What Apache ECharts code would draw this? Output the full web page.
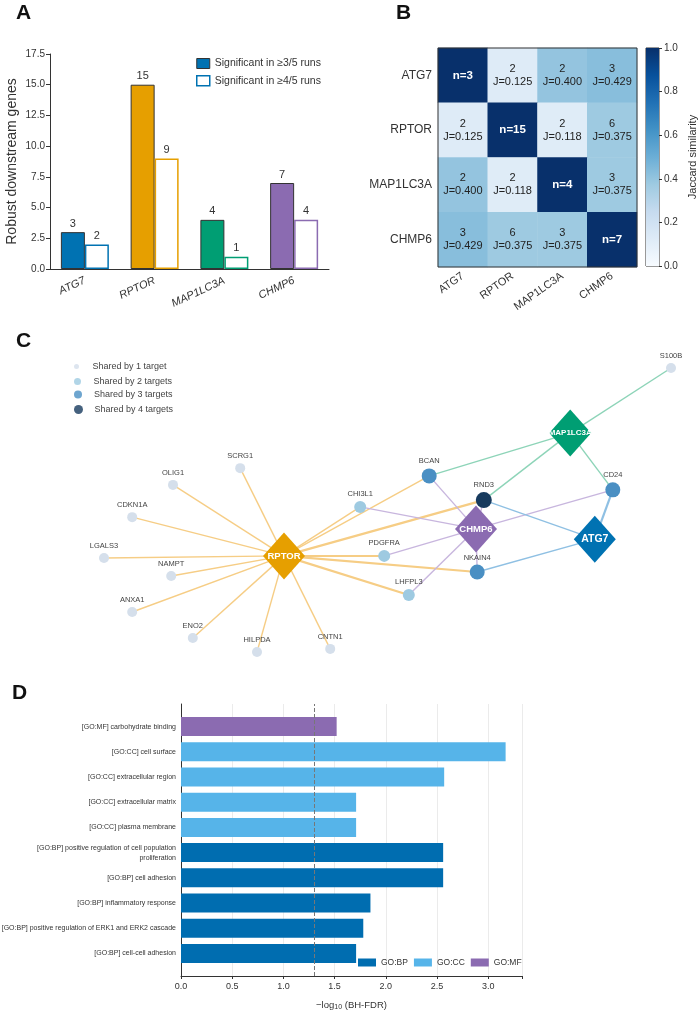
<!DOCTYPE html>
<html>
<head>
<meta charset="utf-8">
<title>Robust downstream genes of autophagy targets</title>
<script src="https://cdn.jsdelivr.net/npm/echarts@6.0.0/dist/echarts.min.js"></script>
<style>
  html, body { margin: 0; padding: 0; background: #fff; }
  #main { width: 700px; height: 1011px; }
</style>
</head>
<body>
<div id="main"></div>
<script>
// ---------- data ----------
// panel A / B: knockdown targets
const targets = ['ATG7', 'RPTOR', 'MAP1LC3A', 'CHMP6'];
const targetColors = ['#0072B2', '#E69F00', '#009E73', '#8B6BB1'];
const robust3of5 = [3, 15, 4, 7];
const robust4of5 = [2, 9, 1, 4];

// panel B: overlap counts and Jaccard index (rows/cols in target order)
const overlapCounts = [
  [3, 2, 2, 3],
  [2, 15, 2, 6],
  [2, 2, 4, 3],
  [3, 6, 3, 7]
];
const jaccardValues = [
  [1, 0.125, 0.400, 0.429],
  [0.125, 1, 0.118, 0.375],
  [0.400, 0.118, 1, 0.375],
  [0.429, 0.375, 0.375, 1]
];
const blues = ['#f7fbff', '#deebf7', '#c6dbef', '#9ecae1', '#6baed6', '#4292c6', '#2171b5', '#08519c', '#08306b'];

// panel C: network layout (layout units 0-100, y grows downward)
const targetXY = [[85.8, 59.4], [34.0, 64.8], [81.7, 25.2], [66.0, 56.1]];
const geneNames = ['SCRG1', 'OLIG1', 'CDKN1A', 'LGALS3', 'NAMPT', 'ANXA1', 'ENO2', 'HILPDA', 'CNTN1',
  'CHI3L1', 'PDGFRA', 'LHFPL3', 'BCAN', 'RND3', 'NKAIN4', 'CD24', 'S100B'];
const geneXY = [[26.7, 36.5], [15.5, 41.9], [8.7, 52.3], [4.0, 65.5], [15.2, 71.3], [8.7, 82.9],
  [18.8, 91.3], [29.5, 95.8], [41.7, 94.8], [46.7, 49.0], [50.7, 64.8], [54.8, 77.4],
  [58.2, 39.0], [67.3, 46.8], [66.2, 70.0], [88.8, 43.5], [98.5, 4.2]];
// [target, gene, strong edge]
const edges = [
  ['RPTOR', 'SCRG1', 0], ['RPTOR', 'OLIG1', 0], ['RPTOR', 'CDKN1A', 0], ['RPTOR', 'LGALS3', 0],
  ['RPTOR', 'NAMPT', 0], ['RPTOR', 'ANXA1', 0], ['RPTOR', 'ENO2', 0], ['RPTOR', 'HILPDA', 0],
  ['RPTOR', 'CNTN1', 0], ['RPTOR', 'CHI3L1', 0], ['RPTOR', 'BCAN', 0], ['RPTOR', 'RND3', 1],
  ['RPTOR', 'PDGFRA', 1], ['RPTOR', 'NKAIN4', 1], ['RPTOR', 'LHFPL3', 1],
  ['MAP1LC3A', 'S100B', 0], ['MAP1LC3A', 'BCAN', 0], ['MAP1LC3A', 'RND3', 0], ['MAP1LC3A', 'CD24', 0],
  ['CHMP6', 'BCAN', 0], ['CHMP6', 'CHI3L1', 0], ['CHMP6', 'RND3', 0], ['CHMP6', 'CD24', 0],
  ['CHMP6', 'PDGFRA', 0], ['CHMP6', 'NKAIN4', 0], ['CHMP6', 'LHFPL3', 0],
  ['ATG7', 'RND3', 0], ['ATG7', 'CD24', 1], ['ATG7', 'NKAIN4', 0]
];
const edgeColors = ['#8fc0e3', '#f6cd85', '#8dd4b8', '#c8b6de'];
const sharedLabels = ['Shared by 1 target', 'Shared by 2 targets', 'Shared by 3 targets', 'Shared by 4 targets'];
const sharedColors = ['#d5dfeb', '#9ecae1', '#4a8fc3', '#173a5e'];
const sharedSizes = [10, 12, 15, 16];

// panel D: GO enrichment
const goTerms = [
  '[GO:MF] carbohydrate binding',
  '[GO:CC] cell surface',
  '[GO:CC] extracellular region',
  '[GO:CC] extracellular matrix',
  '[GO:CC] plasma membrane',
  '[GO:BP] positive regulation of cell population\nproliferation',
  '[GO:BP] cell adhesion',
  '[GO:BP] inflammatory response',
  '[GO:BP] positive regulation of ERK1 and ERK2 cascade',
  '[GO:BP] cell-cell adhesion'
];
const goScores = [1.52, 3.17, 2.57, 1.71, 1.71, 2.56, 2.56, 1.85, 1.78, 1.71];
const goGroups = ['GO:MF', 'GO:CC', 'GO:CC', 'GO:CC', 'GO:CC', 'GO:BP', 'GO:BP', 'GO:BP', 'GO:BP', 'GO:BP'];
const goCategories = ['GO:BP', 'GO:CC', 'GO:MF'];
const goColors = ['#006DB0', '#56B4E9', '#8B6BB1'];
const fdrCutoff = 1.3;
const goMax = 3.33;

// ---------- chart ----------
const FONT = '"Liberation Sans", Arial, sans-serif';
const TXT = '#333';
const chart = echarts.init(document.getElementById('main'));

// heatmap cells
const heatData = [];
targets.forEach((rowName, r) => {
  targets.forEach((colName, c) => {
    heatData.push([c, r, jaccardValues[r][c]]);
  });
});

// network nodes: how many targets share each gene
const sharedBy = geneNames.map(g => edges.filter(e => e[1] === g).length);
const nodes = targets.map((t, i) => ({
  name: t,
  value: targetXY[i],
  symbol: 'diamond',
  symbolSize: [42, 47],
  itemStyle: { color: targetColors[i] },
  label: { show: true, position: 'inside', color: '#fff', fontWeight: 'bold', fontSize: t.length > 6 ? 8 : (t.length > 4 ? 9.5 : 10.5) }
})).concat(geneNames.map((g, i) => ({
  name: g,
  value: geneXY[i],
  symbol: 'circle',
  symbolSize: sharedSizes[sharedBy[i] - 1],
  itemStyle: { color: sharedColors[sharedBy[i] - 1] },
  label: { show: true, position: 'top', distance: 3, color: '#444', fontSize: 7.5 }
})));
const links = edges.map(e => ({
  source: e[0],
  target: e[1],
  lineStyle: { color: edgeColors[targets.indexOf(e[0])], width: e[2] ? 2.2 : 1.4, opacity: 1 }
}));

// legends of panel C, one per node size
const sharedLegendTops = [362, 377, 390, 405];
const sharedLegendSizes = [5, 7, 8, 9];
const sharedLegends = sharedLabels.map((name, i) => ({
  data: [name],
  left: 74,
  top: sharedLegendTops[i],
  padding: 0,
  icon: 'circle',
  itemWidth: 22,
  itemHeight: sharedLegendSizes[i],
  selectedMode: false,
  textStyle: { fontSize: 9, color: '#444', fontFamily: FONT }
}));
const sharedSeries = sharedLabels.map((name, i) => ({
  type: 'scatter',
  name: name,
  xAxisIndex: 3,
  yAxisIndex: 3,
  itemStyle: { color: sharedColors[i] },
  data: []
}));

const goSeries = goCategories.map((cat, k) => ({
  type: 'bar',
  name: cat,
  xAxisIndex: 5,
  yAxisIndex: 5,
  barWidth: 19,
  barGap: '-100%',
  itemStyle: { color: goColors[k] },
  data: goScores.map((s, i) => (goGroups[i] === cat ? s : '-'))
}));

const panelTitle = (text, left, top) => ({
  text: text, left: left, top: top, padding: 0,
  textStyle: { fontSize: 21, fontWeight: 'bold', color: '#111', fontFamily: FONT }
});

const option = {
  animation: false,
  backgroundColor: '#fff',
  textStyle: { fontFamily: FONT },
  title: [
    panelTitle('A', 16, 3),
    panelTitle('B', 396, 3),
    panelTitle('C', 16, 331),
    panelTitle('D', 12, 683)
  ],
  legend: [
    {
      // panel A
      data: [
        { name: 'Significant in ≥3/5 runs', itemStyle: { color: '#0072B2', borderColor: '#333', borderWidth: 1 } },
        { name: 'Significant in ≥4/5 runs', itemStyle: { color: '#fff', borderColor: '#0072B2', borderWidth: 1.5 } }
      ],
      orient: 'vertical',
      left: 196,
      top: 58,
      padding: 0,
      icon: 'rect',
      itemGap: 6,
      itemWidth: 13,
      itemHeight: 10,
      selectedMode: false,
      textStyle: { fontSize: 10.5, color: TXT, fontFamily: FONT }
    },
    {
      // panel D
      data: goCategories,
      left: 358,
      top: 958,
      padding: 0,
      itemGap: 6,
      itemWidth: 18,
      itemHeight: 8,
      icon: 'rect',
      selectedMode: false,
      textStyle: { fontSize: 8.5, color: TXT, fontFamily: FONT }
    }
  ].concat(sharedLegends),
  grid: [
    { left: 50, top: 54, width: 279, height: 215, outerBoundsMode: 'none' },
    { left: 438, top: 48, width: 199, height: 219, show: true, borderColor: '#333', borderWidth: 1, z: 5, outerBoundsMode: 'none' },
    { left: 646, top: 48, width: 13, height: 218, show: true, borderColor: '#333', borderWidth: 1, outerBoundsMode: 'none' },
    { left: 80, top: 355, width: 600, height: 310, outerBoundsMode: 'none' },
    // panel D frame (axes, gridlines, cutoff) and bar area inside it
    { left: 181, top: 704, width: 341, height: 272, outerBoundsMode: 'none' },
    { left: 181, top: 714, width: 341, height: 252, outerBoundsMode: 'none' }
  ],
  visualMap: {
    type: 'continuous',
    show: false,
    min: 0,
    max: 1,
    dimension: 2,
    seriesIndex: 2,
    inRange: { color: blues }
  },
  xAxis: [
    {
      gridIndex: 0,
      type: 'category',
      data: targets,
      axisLine: { lineStyle: { color: TXT } },
      axisTick: { alignWithLabel: true, length: 4, lineStyle: { color: TXT } },
      axisLabel: { rotate: 25, fontStyle: 'italic', fontSize: 11, color: TXT, margin: 11 }
    },
    {
      gridIndex: 1,
      type: 'category',
      data: targets,
      axisLine: { show: false },
      axisTick: { show: false },
      axisLabel: { rotate: 35, fontSize: 11, color: TXT, margin: 8 }
    },
    { gridIndex: 2, type: 'category', data: [''], show: false },
    { gridIndex: 3, type: 'value', min: 0, max: 100, show: false },
    {
      gridIndex: 4,
      type: 'value',
      min: 0,
      max: goMax,
      interval: 0.5,
      name: '−log{sub|10} (BH-FDR)',
      nameLocation: 'middle',
      nameGap: 24,
      nameTextStyle: {
        fontSize: 9.5,
        color: TXT,
        rich: { sub: { fontSize: 7, verticalAlign: 'bottom', padding: [4, 0, 0, 0], color: TXT } }
      },
      axisLine: { lineStyle: { color: TXT } },
      axisTick: { length: 3, lineStyle: { color: TXT } },
      axisLabel: {
        fontSize: 9,
        color: TXT,
        margin: 6,
        formatter: v => (Math.abs(v * 2 - Math.round(v * 2)) < 1e-6 ? v.toFixed(1) : '')
      },
      splitLine: { show: true, lineStyle: { color: '#ebebeb' } }
    },
    { gridIndex: 5, type: 'value', min: 0, max: goMax, show: false }
  ],
  yAxis: [
    {
      gridIndex: 0,
      type: 'value',
      min: 0,
      max: 17.5,
      interval: 2.5,
      name: 'Robust downstream genes',
      nameLocation: 'middle',
      nameGap: 31,
      nameTextStyle: { fontSize: 14, color: TXT },
      axisLine: { show: true, lineStyle: { color: TXT } },
      axisTick: { show: true, length: 4, lineStyle: { color: TXT } },
      axisLabel: { fontSize: 10, color: TXT, margin: 5, formatter: v => v.toFixed(1) },
      splitLine: { show: false }
    },
    {
      gridIndex: 1,
      type: 'category',
      data: targets,
      inverse: true,
      axisLine: { show: false },
      axisTick: { show: false },
      axisLabel: { fontSize: 12, color: TXT, margin: 6 }
    },
    {
      gridIndex: 2,
      type: 'value',
      min: 0,
      max: 1,
      interval: 0.2,
      position: 'right',
      name: 'Jaccard similarity',
      nameLocation: 'middle',
      nameRotate: 90,
      nameGap: 28,
      nameTextStyle: { fontSize: 11, color: TXT },
      axisLine: { show: false },
      axisTick: { show: true, length: 3, lineStyle: { color: TXT } },
      axisLabel: { fontSize: 10, color: TXT, margin: 5, formatter: v => v.toFixed(1) },
      splitLine: { show: false }
    },
    { gridIndex: 3, type: 'value', min: 0, max: 100, inverse: true, show: false },
    {
      gridIndex: 4,
      type: 'value',
      min: 0,
      max: 1,
      axisLine: { show: true, lineStyle: { color: TXT } },
      axisTick: { show: false },
      axisLabel: { show: false },
      splitLine: { show: false }
    },
    {
      gridIndex: 5,
      type: 'category',
      data: goTerms,
      inverse: true,
      axisLine: { show: false },
      axisTick: { alignWithLabel: true, length: 3, lineStyle: { color: TXT } },
      axisLabel: { fontSize: 7, color: TXT, margin: 5, lineHeight: 10 }
    }
  ],
  series: [
    {
      // panel A, filled bars
      type: 'bar',
      name: 'Significant in ≥3/5 runs',
      xAxisIndex: 0,
      yAxisIndex: 0,
      barWidth: 24,
      barGap: '0%',
      data: robust3of5.map((v, i) => ({
        value: v,
        itemStyle: { color: targetColors[i], borderColor: '#333', borderWidth: 1 }
      })),
      label: { show: true, position: 'top', distance: 3, fontSize: 11, color: TXT }
    },
    {
      // panel A, outlined bars
      type: 'bar',
      name: 'Significant in ≥4/5 runs',
      xAxisIndex: 0,
      yAxisIndex: 0,
      barWidth: 24,
      barGap: '0%',
      data: robust4of5.map((v, i) => ({
        value: v,
        itemStyle: { color: '#fff', borderColor: targetColors[i], borderWidth: 1.5 }
      })),
      label: { show: true, position: 'top', distance: 3, fontSize: 11, color: TXT }
    },
    {
      // panel B heatmap
      type: 'heatmap',
      xAxisIndex: 1,
      yAxisIndex: 1,
      data: heatData,
      label: {
        show: true,
        formatter: p => {
          const c = p.value[0], r = p.value[1];
          if (r === c) return '{d|n=' + overlapCounts[r][c] + '}';
          return '{o|' + overlapCounts[r][c] + '}\n{o|J=' + jaccardValues[r][c].toFixed(3) + '}';
        },
        rich: {
          d: { color: '#fff', fontWeight: 'bold', fontSize: 11.5 },
          o: { color: '#222', fontSize: 11, lineHeight: 13 }
        }
      }
    },
    {
      // colorbar of panel B
      type: 'bar',
      xAxisIndex: 2,
      yAxisIndex: 2,
      barWidth: '100%',
      silent: true,
      data: [1],
      itemStyle: {
        color: {
          type: 'linear', x: 0, y: 0, x2: 0, y2: 1,
          colorStops: blues.slice().reverse().map((c, i, arr) => ({ offset: i / (arr.length - 1), color: c }))
        }
      }
    },
    {
      // panel C network
      type: 'graph',
      coordinateSystem: 'cartesian2d',
      xAxisIndex: 3,
      yAxisIndex: 3,
      data: nodes,
      links: links,
      silent: true,
      z: 3
    }
  ].concat(sharedSeries, goSeries, [
    {
      // significance cutoff of panel D, drawn over the bars
      type: 'scatter',
      xAxisIndex: 4,
      yAxisIndex: 4,
      data: [],
      z: 5,
      markLine: {
        silent: true,
        symbol: 'none',
        label: { show: false },
        lineStyle: { type: 'dashed', color: '#777', width: 1 },
        data: [{ xAxis: fdrCutoff }]
      }
    }
  ])
};

chart.setOption(option);
</script>
</body>
</html>
